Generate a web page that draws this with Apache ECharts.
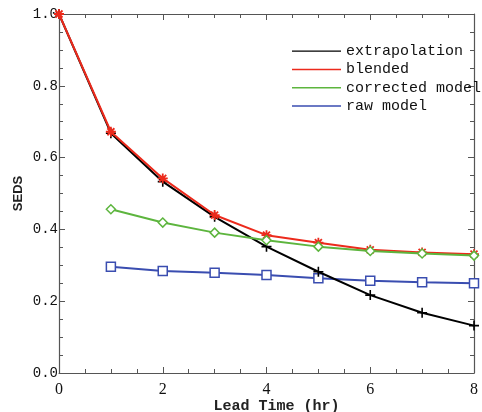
<!DOCTYPE html>
<html>
<head>
<meta charset="utf-8">
<script src="https://cdn.jsdelivr.net/npm/echarts@6/dist/echarts.min.js"></script>
<style>
  html, body { margin: 0; padding: 0; background: #fff; }
  #chart { width: 482px; height: 412px; }
</style>
</head>
<body>
<div id="chart"></div>
<script>
// Lead times (hours)
const leadTimes = [0, 1, 2, 3, 4, 5, 6, 7, 8];
const modelLeadTimes = [1, 2, 3, 4, 5, 6, 7, 8];

// SEDS skill scores
const extrapolation = [1.0, 0.668, 0.533, 0.435, 0.352, 0.282, 0.217, 0.168, 0.132];
const blended       = [1.0, 0.672, 0.542, 0.440, 0.384, 0.363, 0.343, 0.336, 0.331];
const correctedModel = [0.456, 0.419, 0.391, 0.370, 0.352, 0.340, 0.333, 0.327];
const rawModel       = [0.296, 0.284, 0.279, 0.273, 0.264, 0.257, 0.253, 0.250];

const seriesNames = ['extrapolation', 'blended', 'corrected model', 'raw model'];
const colors = ['#000000', '#ec2a1c', '#5db53e', '#3a4db0'];

const mono = '"Liberation Mono", "DejaVu Sans Mono", monospace';
const serif = '"Liberation Serif", "DejaVu Serif", serif';
const sans = '"Liberation Sans", "DejaVu Sans", sans-serif';
const axisGray = '#555';

const pairs = (xs, ys) => xs.map((x, i) => [x, ys[i]]);

const plusPath = 'path://M0,-1L0,1M-1,0L1,0';
const starPath = 'path://M0,-1L0,1M-1,0L1,0M-0.7,-0.7L0.7,0.7M-0.7,0.7L0.7,-0.7';

// Boxed axes with inward major and minor ticks
function tickAxis(extra) {
  return Object.assign({
    axisLine: { show: true, onZero: false, lineStyle: { color: axisGray, width: 1.2 } },
    axisTick: { show: true, inside: true, length: 6, lineStyle: { color: axisGray } },
    minorTick: { show: true, splitNumber: 4, length: 4, lineStyle: { color: axisGray } },
    splitLine: { show: false },
    minorSplitLine: { show: false },
    nameMoveOverlap: false
  }, extra);
}

const chart = echarts.init(document.getElementById('chart'), null, { renderer: 'canvas' });

chart.setOption({
  animation: false,
  backgroundColor: '#fff',
  grid: { left: 59, right: 8, top: 14, bottom: 39, containLabel: false, outerBoundsMode: 'none' },
  legend: {
    orient: 'vertical',
    left: 287,
    top: 37,
    itemWidth: 49,
    itemHeight: 1.4,
    itemGap: 0,
    icon: 'rect',
    data: seriesNames.map((name, i) => ({
      name,
      itemStyle: { color: colors[i], borderWidth: 0 }
    })),
    textStyle: { fontFamily: mono, fontSize: 15, color: '#111', lineHeight: 18.3 }
  },
  xAxis: [
    tickAxis({
      type: 'value', min: 0, max: 8, interval: 2, position: 'bottom',
      name: 'Lead Time (hr)', nameLocation: 'middle', nameGap: 26,
      nameTextStyle: { fontFamily: mono, fontSize: 15, fontWeight: 'bold', color: '#222', padding: [0, 0, 0, 20] },
      axisLabel: { fontFamily: serif, fontSize: 16, color: '#111', margin: 9 }
    }),
    tickAxis({
      type: 'value', min: 0, max: 8, interval: 2, position: 'top',
      axisLabel: { show: false }
    })
  ],
  yAxis: [
    tickAxis({
      type: 'value', min: 0, max: 1, interval: 0.2, position: 'left',
      name: 'SEDS', nameLocation: 'middle', nameGap: 34,
      nameTextStyle: { fontFamily: sans, fontSize: 13, fontWeight: 'bold', color: '#222' },
      axisLabel: { fontFamily: mono, fontSize: 14, color: '#111', margin: 1,
        formatter: v => v.toFixed(1) }
    }),
    tickAxis({
      type: 'value', min: 0, max: 1, interval: 0.2, position: 'right',
      axisLabel: { show: false }
    })
  ],
  series: [
    {
      name: 'raw model', type: 'line', z: 2,
      data: pairs(modelLeadTimes, rawModel),
      symbol: 'rect', symbolSize: 9,
      lineStyle: { color: colors[3], width: 2 },
      itemStyle: { color: '#fff', borderColor: colors[3], borderWidth: 1.5 }
    },
    {
      name: 'extrapolation', type: 'line', z: 3,
      data: pairs(leadTimes, extrapolation),
      symbol: plusPath, symbolSize: 10,
      lineStyle: { color: colors[0], width: 2 },
      itemStyle: { color: colors[0], borderColor: colors[0], borderWidth: 1.6 }
    },
    {
      name: 'blended', type: 'line', z: 4,
      data: pairs(leadTimes, blended),
      symbol: starPath, symbolSize: 10,
      lineStyle: { color: colors[1], width: 2 },
      itemStyle: { color: colors[1], borderColor: colors[1], borderWidth: 1.8 }
    },
    {
      name: 'corrected model', type: 'line', z: 5,
      data: pairs(modelLeadTimes, correctedModel),
      symbol: 'diamond', symbolSize: 9,
      lineStyle: { color: colors[2], width: 2 },
      itemStyle: { color: '#fff', borderColor: colors[2], borderWidth: 1.5 }
    }
  ]
});
</script>
</body>
</html>
